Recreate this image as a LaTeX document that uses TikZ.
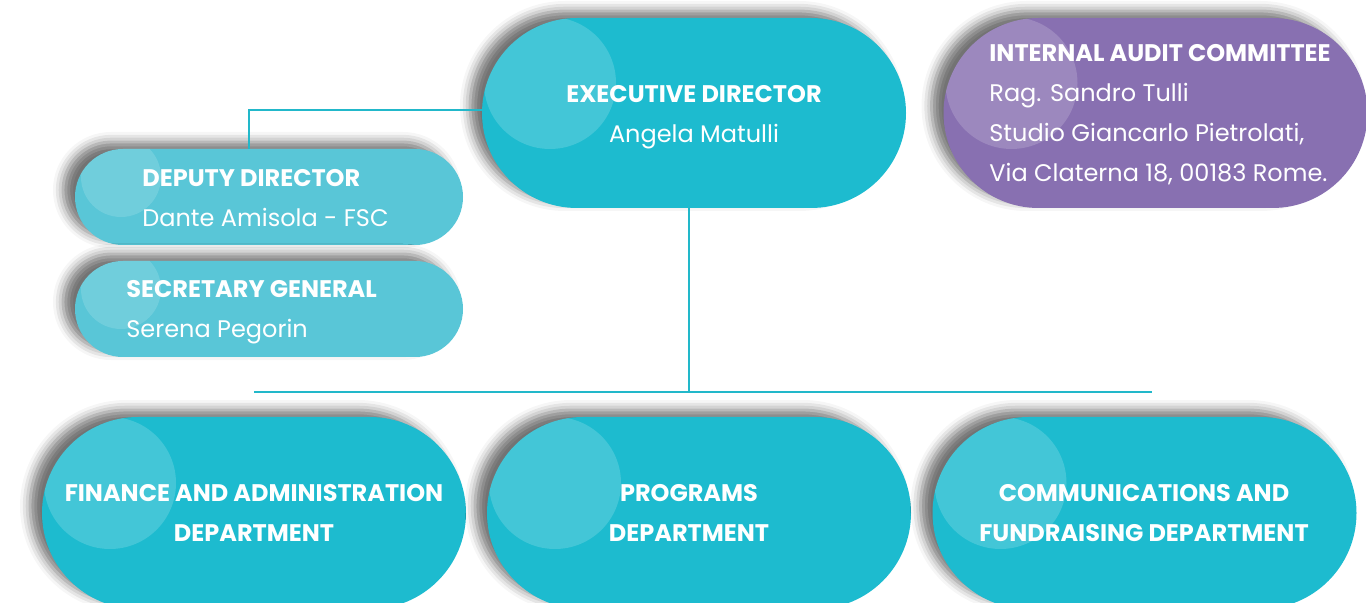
\documentclass[tikz,border=0pt]{standalone}
\usepackage{fontspec}
\setmainfont{Poppins}
\usetikzlibrary{shapes.misc,shadows.blur}
\definecolor{orgteal}{HTML}{1DBBCF}
\definecolor{orglight}{HTML}{59C6D7}
\definecolor{orgpurple}{HTML}{8870B1}
\definecolor{orgline}{HTML}{22B8CA}
\tikzset{
  pill/.style   = {rounded rectangle, draw=none, inner sep=0pt,
                   blur shadow={shadow xshift=-6pt, shadow yshift=3.5pt,
                   shadow blur radius=5pt, shadow opacity=55}},
  bigpill/.style   = {pill, minimum width=212pt, minimum height=95pt,
                   path picture={\fill[white,opacity=0.17]
                   ([xshift=34pt,yshift=15pt]path picture bounding box.west) circle (33pt);}},
  smallpill/.style = {pill, minimum width=194pt, minimum height=48pt,
                   path picture={\fill[white,opacity=0.14]
                   ([xshift=23pt,yshift=10pt]path picture bounding box.west) circle (20pt);}},
  link/.style   = {orgline, line width=1.3pt},
  label/.style  = {text=white, inner sep=0pt, font=\fontsize{12}{20}\selectfont},
}

\begin{document}
\begin{tikzpicture}[x=0.5pt, y=-0.5pt]
        \useasboundingbox (0,0) rectangle (1366,603);
        % boxes
        \node[bigpill, fill=orgteal]     (exec)  at (694,113)    {};
        \node[bigpill, fill=orgpurple]   (audit) at (1155.5,113) {};
        \node[smallpill, fill=orglight]  (dep)   at (269,197)    {};
        \node[smallpill, fill=orglight]  (sec)   at (269,309)    {};
        \node[bigpill, fill=orgteal, minimum height=96pt] (fin)  at (254,513) {};
        \node[bigpill, fill=orgteal, minimum height=96pt] (prog) at (699,513) {};
        \node[bigpill, fill=orgteal, minimum height=96pt] (comm) at (1144.5,513) {};
        % texts
        \node[label, anchor=north, align=center] (execT) at (694,85.5)
            {{\bfseries EXECUTIVE DIRECTOR}\\Angela Matulli};
        \node[label, anchor=north west, align=left] (auditT) at (989,44.5)
            {{\bfseries INTERNAL AUDIT COMMITTEE}\\Rag. Sandro Tulli\\Studio Giancarlo Pietrolati,\\Via Claterna 18, 00183 Rome.};
        \node[label, anchor=north west, align=left] (depT) at (142,169.5)
            {{\bfseries DEPUTY DIRECTOR}\\Dante Amisola - FSC};
        \node[label, anchor=north west, align=left] (secT) at (126,280.5)
            {{\bfseries SECRETARY GENERAL}\\Serena Pegorin};
        \node[label, anchor=north, align=center, font=\bfseries\fontsize{12}{20}\selectfont] (finT) at (254,484.5)
            {FINANCE AND ADMINISTRATION\\DEPARTMENT};
        \node[label, anchor=north, align=center, font=\bfseries\fontsize{12}{20}\selectfont] (progT) at (689,484.5)
            {PROGRAMS\\DEPARTMENT};
        \node[label, anchor=north, align=center, font=\bfseries\fontsize{12}{20}\selectfont] (commT) at (1144,484.5)
            {COMMUNICATIONS AND\\FUNDRAISING DEPARTMENT};
        % connectors
        \coordinate (bar) at (689,392);
        \draw[link] ([xshift=-10pt]dep.north) |- ([yshift=1.5pt]exec.west);
        \draw[link] ([xshift=-2.5pt]exec.south) -- (bar);
        \draw[link] (bar -| fin.north) -- ([xshift=3.5pt]bar -| comm.north);
\end{tikzpicture}
\end{document}
